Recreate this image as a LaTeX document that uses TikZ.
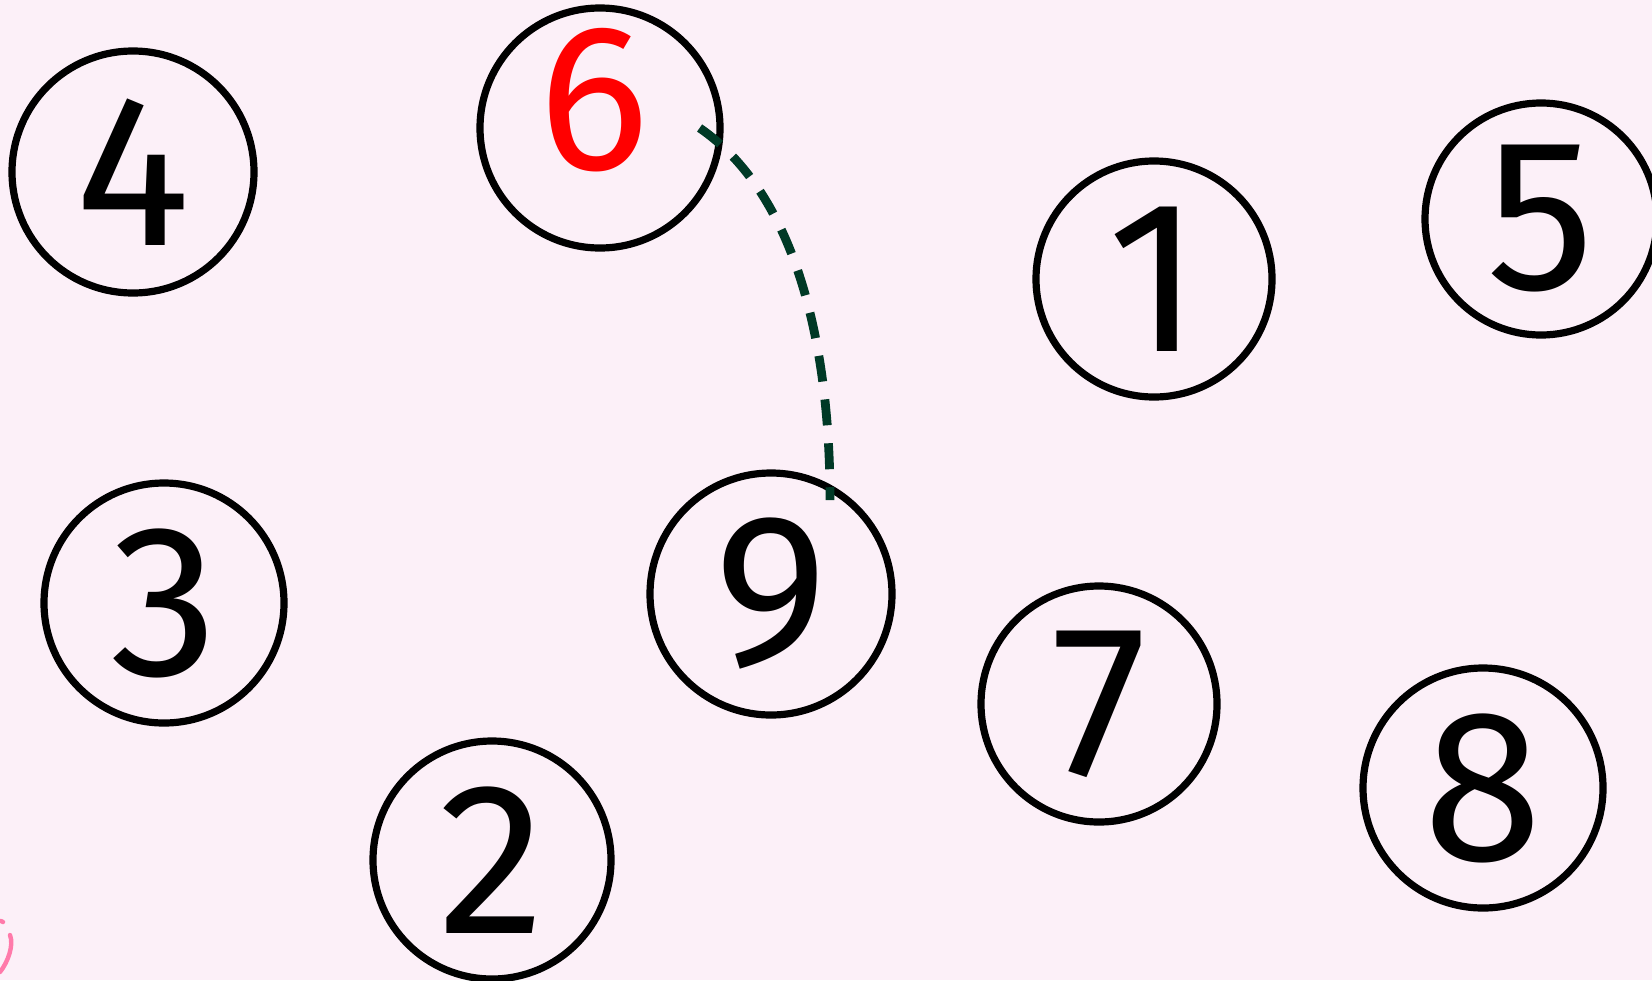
\documentclass[tikz,border=0pt]{standalone}
\usepackage{fontspec}
\setmainfont{Fira Sans}
\definecolor{bg}{RGB}{252,240,248}
\definecolor{dgreen}{RGB}{0,57,38}
\definecolor{pinkish}{RGB}{255,122,170}
\begin{document}
\begin{tikzpicture}[x=0.5pt,y=-0.5pt,
  ball/.style={circle,draw=black,line width=3.6pt,inner sep=0pt,minimum size=120pt,font=\fontsize{108}{108}\selectfont},
  digit/.style={inner sep=0pt,font=\fontsize{104}{104}\selectfont}]
\fill[bg] (0,0) rectangle (1652,980);
\useasboundingbox (0,0) rectangle (1652,980);
\node[ball,minimum size=121pt] (n4) at (133,172) {4};
\node[ball] (n6) at (600,128) {};
\node[digit,text=red] (t6) at (594,100) {6};
\node[ball,minimum size=118pt] (n1) at (1154,279) {1};
\node[ball,minimum size=116pt] (n5) at (1541,219) {5};
\node[ball] (n3) at (164,603) {3};
\node[ball,minimum size=121pt] (n9) at (771,594) {9};
\node[ball,minimum size=118pt] (n7) at (1099,704) {7};
\node[ball] (n8) at (1483,788) {8};
\node[ball,minimum size=119pt] (n2) at (492,860) {2};
\coordinate (e9) at (830,500);
\draw[dgreen,line width=4.4pt,dash pattern=on 13pt off 9pt]
  ([xshift=-12]n6.east) .. controls (790,190) and (830,330) .. (e9);
\draw[pinkish,line width=2.2pt,line cap=round] (1,921) -- (3,922);
\draw[pinkish,line width=2.2pt,line cap=round] (10,935) .. controls (14,945) and (8,962) .. (0,972);
\end{tikzpicture}
\end{document}
